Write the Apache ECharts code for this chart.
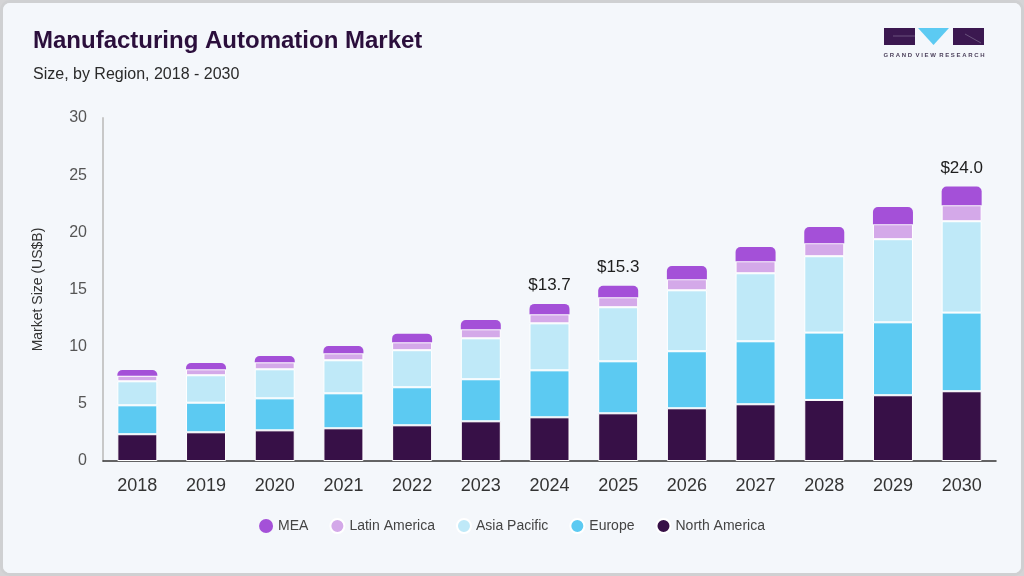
<!DOCTYPE html>
<html><head><meta charset="utf-8">
<script src="https://cdn.jsdelivr.net/npm/echarts@6/dist/echarts.min.js"></script>
<style>
html,body{margin:0;padding:0;background:#d4d4d6;}
#frame{position:absolute;left:0;top:0;width:1018px;height:570px;border:3px solid #cfd0d2;border-radius:10px;background:#f4f7fb;overflow:hidden;}
#c{width:1018px;height:570px;}
</style></head>
<body><div id="frame"><div id="c"></div></div>
<script>
const years = ['2018','2019','2020','2021','2022','2023','2024','2025','2026','2027','2028','2029','2030'];
const northAmerica = [2.34,2.51,2.68,2.86,3.12,3.47,3.82,4.17,4.61,4.96,5.34,5.75,6.10];
const europe       = [2.53,2.59,2.80,3.06,3.33,3.68,4.11,4.55,4.99,5.51,5.89,6.38,6.88];
const asiaPacific  = [2.10,2.40,2.54,2.89,3.24,3.58,4.11,4.73,5.33,5.95,6.68,7.27,7.99];
const latinAmerica = [0.49,0.52,0.61,0.61,0.69,0.79,0.79,0.87,0.97,1.05,1.14,1.31,1.40];
const mea          = [0.50,0.55,0.56,0.64,0.76,0.82,0.91,1.00,1.16,1.25,1.42,1.51,1.63];
const labelYears = ['2024','2025','2030'];
const yTicks = [0,5,10,15,20,25,30];

const totals = years.map((y,i)=>northAmerica[i]+europe[i]+asiaPacific[i]+latinAmerica[i]+mea[i]);
const colors = {na:'#371047', eu:'#5ccaf2', ap:'#bfe9f8', la:'#d4a9e9', mea:'#a450d8'};

function mk(name, data, color, top){
  return {
    name, type:'bar', stack:'total', barWidth:40, data,
    itemStyle:{color, borderColor:'#ffffff', borderWidth: top?0:1, borderRadius: top?[5,5,0,0]:0},
    emphasis:{disabled:true},
    label: top ? {
      show:true, position:'top', distance:10, color:'#1e1e1e', fontSize:17, fontFamily:'Liberation Sans, Arial, sans-serif',
      formatter: p => labelYears.includes(p.name) ? '$' + totals[p.dataIndex].toFixed(1) : ''
    } : {show:false}
  };
}

const chart = echarts.init(document.getElementById('c'));
chart.setOption({
  backgroundColor:'#f4f7fb',
  animation:false,
  title:[
    {text:'Manufacturing Automation Market', left:25, top:21, textStyle:{fontSize:24, fontWeight:'bold', color:'#2b0f3c', fontFamily:'Liberation Sans, Arial, sans-serif'}},
    {text:'Size, by Region, 2018 - 2030', left:25, top:59, textStyle:{fontSize:16, fontWeight:'normal', color:'#2a2a2a', fontFamily:'Liberation Sans, Arial, sans-serif'}}
  ],
  legend:{
    bottom:34, left:'center', itemWidth:14, itemHeight:14, itemGap:21, icon:'circle',
    data:['MEA','Latin America','Asia Pacific','Europe','North America'],
    textStyle:{fontSize:14, color:'#444', fontFamily:'Liberation Sans, Arial, sans-serif'}
  },
  grid:{left:100, right:25, top:115, bottom:112},
  xAxis:{
    type:'category', data:years,
    axisLine:{lineStyle:{color:'#333', width:1.5}},
    axisTick:{show:false},
    axisLabel:{fontSize:18, color:'#333', margin:16, fontFamily:'Liberation Sans, Arial, sans-serif'}
  },
  yAxis:{
    type:'value', min:0, max:30, interval:5,
    name:'Market Size (US$B)', nameLocation:'middle', nameGap:58, nameRotate:90,
    nameTextStyle:{fontSize:14, color:'#333', fontFamily:'Liberation Sans, Arial, sans-serif'},
    axisLine:{show:true, lineStyle:{color:'#c8c8c8', width:2}},
    axisTick:{show:false},
    splitLine:{show:false},
    axisLabel:{fontSize:16, color:'#555', margin:16, fontFamily:'Liberation Sans, Arial, sans-serif',
      formatter: v => yTicks.includes(v) ? String(v) : ''}
  },
  series:[
    mk('North America', northAmerica, colors.na, false),
    mk('Europe', europe, colors.eu, false),
    mk('Asia Pacific', asiaPacific, colors.ap, false),
    mk('Latin America', latinAmerica, colors.la, false),
    mk('MEA', mea, colors.mea, true)
  ],
  graphic:[
    {type:'rect', shape:{x:881, y:25, width:31, height:17}, style:{fill:'#3b1850'}},
    {type:'polygon', shape:{points:[[915,25],[946,25],[930.5,42]]}, style:{fill:'#5ccaf2'}},
    {type:'rect', shape:{x:950, y:25, width:31, height:17}, style:{fill:'#3b1850'}},
    {type:'line', shape:{x1:890, y1:33, x2:912, y2:33}, style:{stroke:'#8a7a9a', lineWidth:0.6}},
    {type:'line', shape:{x1:962, y1:31, x2:978, y2:40}, style:{stroke:'#8a7a9a', lineWidth:0.6}},
    {type:'text', x:931, y:52, style:{text:'G R A N D  V I E W  R E S E A R C H', fill:'#4a3f5a', font:'bold 6px Liberation Sans, Arial, sans-serif', align:'center', verticalAlign:'middle'}}
  ]
});
</script></body></html>
